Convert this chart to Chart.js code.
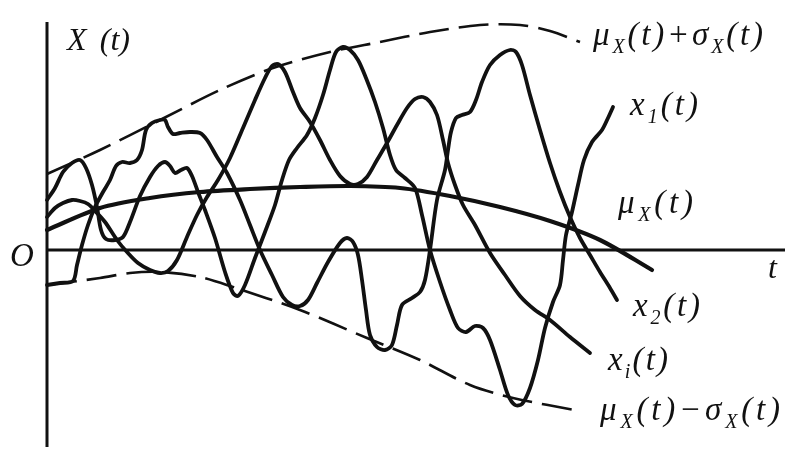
<!DOCTYPE html>
<html><head><meta charset="utf-8">
<script src="https://cdn.jsdelivr.net/npm/chart.js@4"></script>
<style>html,body{margin:0;padding:0;background:#fff;}#wrap{width:795px;height:462px;position:relative;}</style>
</head><body><div id="wrap"><canvas id="c"></canvas></div>
<script>
// ---- data (t in abstract time units, X in abstract value units) ----
const tMin = 0, tMax = 73.8, xMin = -19.7, xMax = 22.8;

const meanT = [0, 5.3, 10.3, 15.3, 20.3, 25.3, 30.3, 35.3, 40.3, 45.3, 50.3, 55.3, 60.5];
const meanX = [2.0, 4.2, 5.2, 5.8, 6.1, 6.3, 6.4, 6.2, 5.4, 4.3, 2.9, 1.0, -2.0];

const upperT = [0, 5.3, 11.3, 17.3, 22.6, 28.3, 33.3, 38.3, 43.3, 47.3, 50.3, 53.3];
const upperX = [7.6, 10.0, 13.0, 16.0, 18.2, 19.8, 20.8, 21.8, 22.5, 22.5, 21.9, 20.8];

const lowerT = [0, 5.3, 8.3, 11.3, 15.3, 18.6, 25.3, 32.0, 37.3, 42.3, 46.6, 53.3];
const lowerX = [-3.5, -2.8, -2.3, -2.2, -2.7, -3.7, -6.0, -8.8, -11.0, -13.5, -14.8, -16.1];

const x1T = [0, 0.8, 1.6, 2.5, 3.3, 3.9, 4.5, 5.0, 5.4, 5.9, 6.8, 7.6, 8.3, 9.3, 10.3, 11.1, 11.8, 12.3, 12.8, 13.4, 14.0, 14.5, 15.1, 15.8, 16.8, 17.8, 18.6, 19.1, 19.8, 20.8, 21.8, 22.8, 23.5, 24.2, 25.0, 26.0, 26.8, 27.6, 28.3, 28.9, 29.6, 30.3, 31.1, 31.9, 32.8, 33.6, 34.3, 34.9, 35.8, 36.8, 37.5, 38.3, 39.3, 40.3, 41.1, 41.9, 42.8, 43.6, 44.3, 45.3, 46.1, 46.8, 47.5, 48.3, 49.1, 49.8, 50.6, 51.3, 51.6, 51.9, 52.5, 53.1, 53.7, 54.5, 55.5, 56.1, 56.6];
const x1X = [5.0, 6.2, 7.8, 8.7, 9.0, 8.2, 6.5, 4.3, 2.0, 1.1, 1.0, 1.3, 2.8, 5.4, 7.3, 8.4, 8.8, 8.4, 7.7, 8.0, 8.2, 7.4, 5.8, 4.0, 1.2, -2.2, -4.3, -4.6, -3.5, -0.8, 1.8, 4.5, 7.0, 9.0, 10.2, 11.5, 13.2, 15.5, 18.0, 19.8, 20.3, 20.0, 19.0, 17.2, 14.8, 12.2, 9.5, 8.0, 7.2, 6.2, 3.5, 0.0, -3.2, -6.0, -7.8, -8.2, -7.6, -7.8, -9.0, -12.0, -14.5, -15.5, -15.4, -13.8, -11.0, -7.8, -5.2, -3.5, -1.0, 1.5, 3.8, 6.5, 9.0, 10.8, 12.0, 13.2, 14.3];

const x2T = [0, 1.3, 2.6, 3.0, 3.5, 4.1, 4.8, 5.6, 6.3, 6.9, 7.5, 8.3, 9.0, 9.5, 9.9, 10.5, 11.3, 11.8, 12.1, 12.6, 13.3, 14.3, 15.3, 16.0, 17.0, 18.0, 19.3, 20.3, 21.3, 22.5, 23.6, 24.5, 25.3, 26.1, 27.0, 28.1, 29.3, 30.0, 30.6, 31.1, 31.5, 31.9, 32.3, 33.0, 33.8, 34.5, 35.0, 35.5, 36.5, 37.3, 37.8, 38.3, 39.0, 39.8, 40.1, 40.4, 40.9, 41.5, 42.3, 42.9, 43.5, 44.3, 45.3, 46.3, 46.9, 47.5, 48.3, 49.3, 50.3, 51.3, 52.3, 53.3, 54.3, 55.3, 56.3, 57.0];
const x2X = [-3.5, -3.3, -3.1, -1.5, 0.5, 2.5, 4.3, 5.8, 7.0, 8.4, 8.8, 8.7, 9.0, 10.0, 12.0, 12.7, 13.0, 13.0, 12.3, 11.6, 11.7, 11.8, 11.7, 11.0, 9.3, 7.7, 5.0, 2.5, 0.0, -2.5, -4.7, -5.5, -5.6, -5.0, -3.3, -1.2, 0.7, 1.2, 0.8, -0.5, -3.0, -6.0, -8.5, -9.7, -10.0, -9.5, -7.5, -5.5, -4.8, -4.2, -3.0, 0.0, 5.0, 8.0, 10.0, 11.8, 13.2, 13.5, 13.8, 15.0, 16.8, 18.5, 19.5, 20.0, 19.8, 18.5, 15.5, 12.0, 8.7, 5.8, 3.3, 1.2, -0.5, -2.2, -3.8, -5.0];

const xiT = [0, 0.8, 1.6, 2.5, 3.3, 4.1, 4.9, 5.8, 7.0, 8.0, 9.1, 10.3, 11.3, 12.1, 13.0, 14.0, 15.0, 16.0, 17.1, 18.3, 19.6, 20.8, 21.8, 22.5, 23.1, 23.8, 24.6, 25.3, 26.3, 27.3, 28.3, 29.3, 30.3, 31.1, 32.0, 33.0, 34.0, 35.0, 36.0, 36.8, 37.6, 38.3, 39.0, 39.6, 40.1, 40.8, 41.6, 42.8, 44.3, 45.8, 47.3, 48.8, 50.3, 52.3, 54.3];
const xiX = [3.3, 4.2, 4.7, 5.0, 4.9, 4.6, 3.8, 2.8, 1.0, -0.2, -1.3, -2.0, -2.3, -2.1, -1.0, 1.3, 3.5, 5.3, 7.0, 9.2, 12.2, 15.0, 17.2, 18.4, 18.6, 17.8, 15.8, 14.2, 12.8, 11.0, 9.0, 7.4, 6.6, 6.6, 7.3, 9.0, 10.7, 12.5, 14.2, 15.1, 15.3, 14.8, 13.5, 11.0, 8.7, 6.5, 4.5, 2.5, -0.3, -2.5, -4.6, -6.0, -7.0, -8.7, -10.3];

// ---- build ----
function pts(ts, xs) { return ts.map((t, i) => ({ x: t, y: xs[i] })); }
const INK = '#111';
function curve(ts, xs, w, dash) {
  return {
    data: pts(ts, xs), borderColor: INK, borderWidth: w, borderDash: dash || [],
    pointRadius: 0, tension: 0.3, fill: false, clip: false,
    borderCapStyle: dash ? 'butt' : 'round', borderJoinStyle: 'round'
  };
}

function fontStr(s) { return 'italic ' + s + 'px "Liberation Serif"'; }

function drawMath(ctx, parts, x, base, size, width) {
  const items = parts.map(p => {
    const sub = p[1] === 'sub';
    const s = Math.round(sub ? size * 0.62 : size);
    ctx.font = fontStr(s);
    return { txt: p[0], sub, s, w: ctx.measureText(p[0]).width };
  });
  const nat = items.reduce((a, b) => a + b.w, 0);
  const gap = items.length > 1 && width ? (width - nat) / (items.length - 1) : 0;
  let cx = x;
  ctx.fillStyle = INK; ctx.textBaseline = 'alphabetic'; ctx.textAlign = 'left';
  items.forEach(it => {
    ctx.font = fontStr(it.s);
    ctx.fillText(it.txt, cx, base + (it.sub ? size * 0.24 : 0));
    cx += it.w + gap;
  });
}

const axesPlugin = {
  id: 'axesAndLabels',
  beforeDatasetsDraw(chart) {
    const { ctx, scales: { x, y } } = chart;
    ctx.save();
    ctx.strokeStyle = INK; ctx.lineWidth = 3; ctx.lineCap = 'butt';
    const x0 = x.getPixelForValue(0), y0 = y.getPixelForValue(0);
    ctx.beginPath();
    ctx.moveTo(x0, y.getPixelForValue(xMax)); ctx.lineTo(x0, y.getPixelForValue(xMin));
    ctx.stroke();
    ctx.beginPath();
    ctx.moveTo(x0, y0); ctx.lineTo(x.getPixelForValue(tMax), y0);
    ctx.stroke();
    ctx.restore();
  },
  afterDraw(chart) {
    const ctx = chart.ctx;
    ctx.save();
    drawMath(ctx, [['X'], ['(t)']], 67, 50, 32, 63);
    drawMath(ctx, [['O']], 10, 266, 33, 0);
    drawMath(ctx, [['t']], 768, 278, 32, 0);
    drawMath(ctx, [['μ'], ['X', 'sub'], ['('], ['t'], [')'], ['+'], ['σ'], ['X', 'sub'], ['('], ['t'], [')']], 593, 45, 33, 170);
    drawMath(ctx, [['x'], ['1', 'sub'], ['('], ['t'], [')']], 630, 115, 33, 68);
    drawMath(ctx, [['μ'], ['X', 'sub'], ['('], ['t'], [')']], 618, 213, 33, 75);
    drawMath(ctx, [['x'], ['2', 'sub'], ['('], ['t'], [')']], 633, 316, 33, 67);
    drawMath(ctx, [['x'], ['i', 'sub'], ['('], ['t'], [')']], 608, 370, 33, 60);
    drawMath(ctx, [['μ'], ['X', 'sub'], ['('], ['t'], [')'], ['−'], ['σ'], ['X', 'sub'], ['('], ['t'], [')']], 600, 420, 33, 180);
    ctx.restore();
  }
};

new Chart(document.getElementById('c'), {
  type: 'line',
  data: {
    datasets: [
      curve(upperT, upperX, 2.6, [30, 10]),
      curve(lowerT, lowerX, 2.6, [30, 10]),
      curve(meanT, meanX, 4.2),
      curve(x1T, x1X, 3.8),
      curve(x2T, x2X, 3.8),
      curve(xiT, xiX, 3.8)
    ]
  },
  options: {
    responsive: true, maintainAspectRatio: false, animation: false,
    layout: { padding: { left: 47, right: 10, top: 22, bottom: 15 } },
    plugins: { legend: { display: false }, tooltip: { enabled: false }, title: { display: false } },
    scales: {
      x: { type: 'linear', min: tMin, max: tMax, display: false },
      y: { type: 'linear', min: xMin, max: xMax, display: false }
    }
  },
  plugins: [axesPlugin]
});
</script></body></html>
